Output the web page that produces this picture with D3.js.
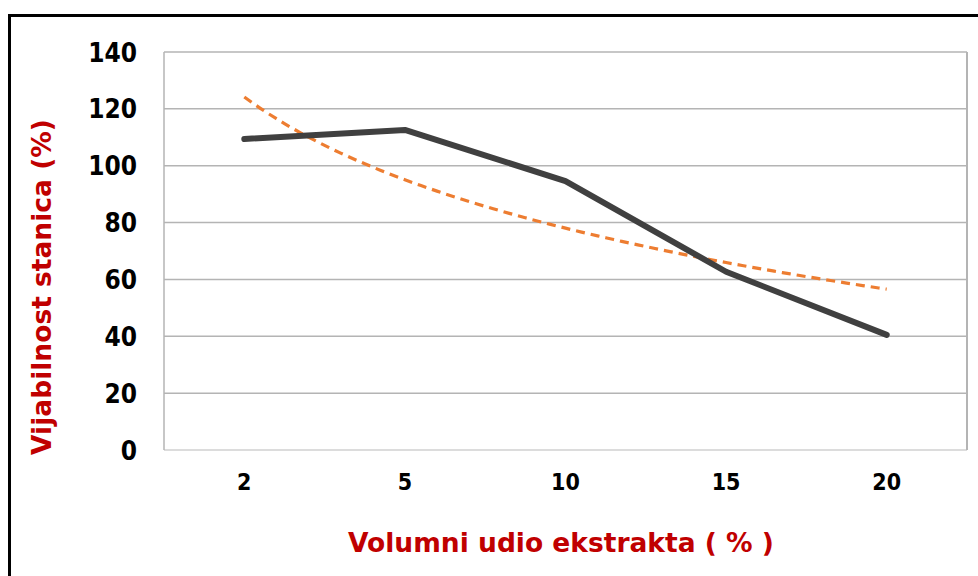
<!DOCTYPE html>
<html>
<head>
<meta charset="utf-8">
<script src="https://d3js.org/d3.v7.min.js"></script>
<style>
  body { margin: 0; background: #fff; }
  text { font-family: "DejaVu Sans Condensed", "DejaVu Sans", sans-serif; font-weight: bold; }
  text.title { font-family: "DejaVu Sans", sans-serif; }
</style>
</head>
<body>
<div id="chart"></div>
<script>
// data
var categories = ["2", "5", "10", "15", "20"];
var viability = [109.4, 112.6, 94.6, 62.7, 40.5];
var yTicks = [0, 20, 40, 60, 80, 100, 120, 140];

var W = 978, H = 576;
var plotL = 164, plotR = 967, plotT = 52, plotB = 450;

var svg = d3.select("#chart").append("svg")
  .attr("width", W).attr("height", H);

// outer chart border
svg.append("rect")
  .attr("x", 9.5).attr("y", 15.5)
  .attr("width", W + 20).attr("height", H + 20)
  .style("fill", "none").style("stroke", "#000").style("stroke-width", 3);

var x = d3.scalePoint().domain(categories).range([plotL, plotR]).padding(0.5);
var y = d3.scaleLinear().domain([0, 140]).range([plotB, plotT]);

// gridlines
svg.append("g").selectAll("line").data(yTicks).enter().append("line")
  .attr("x1", plotL).attr("x2", plotR)
  .attr("y1", function(d) { return y(d); })
  .attr("y2", function(d) { return y(d); })
  .style("stroke", function(d) { return d === 0 ? "#d0d0d0" : "#b4b4b4"; })
  .style("stroke-width", 1.5);

// plot area sides
svg.append("line").attr("x1", plotL).attr("x2", plotL).attr("y1", plotT).attr("y2", plotB)
  .style("stroke", "#b4b4b4").style("stroke-width", 1.5);
svg.append("line").attr("x1", plotR).attr("x2", plotR).attr("y1", plotT).attr("y2", plotB)
  .style("stroke", "#b4b4b4").style("stroke-width", 2);

// y tick labels
svg.append("g").selectAll("text").data(yTicks).enter().append("text")
  .attr("x", 137).attr("y", function(d) { return y(d) + 9.5; })
  .attr("text-anchor", "end")
  .style("font-size", "26px").style("fill", "#000")
  .text(function(d) { return d; });

// x tick labels
svg.append("g").selectAll("text").data(categories).enter().append("text")
  .attr("x", function(d) { return x(d); }).attr("y", 490)
  .attr("text-anchor", "middle")
  .style("font-size", "23px").style("fill", "#000")
  .text(function(d) { return d; });

// logarithmic trendline (least squares on category index, like Excel)
var idx = viability.map(function(d, i) { return i + 1; });
var lx = idx.map(Math.log);
var mx = d3.mean(lx), my = d3.mean(viability);
var sxy = d3.sum(lx, function(v, i) { return (v - mx) * (viability[i] - my); });
var sxx = d3.sum(lx, function(v) { return (v - mx) * (v - mx); });
var b = sxy / sxx, a = my - b * mx;
var step = x.step();
var trend = d3.range(1, 5.001, 0.05).map(function(t) {
  return [x(categories[0]) + (t - 1) * step, y(a + b * Math.log(t))];
});

svg.append("path")
  .attr("d", d3.line()(trend))
  .style("fill", "none").style("stroke", "#ED7D31")
  .style("stroke-width", 3.2).style("stroke-dasharray", "9,6");

// data line
svg.append("path")
  .datum(viability)
  .attr("d", d3.line()
    .x(function(d, i) { return x(categories[i]); })
    .y(function(d) { return y(d); }))
  .style("fill", "none").style("stroke", "#404040")
  .style("stroke-width", 6).style("stroke-linecap", "round").style("stroke-linejoin", "round");

// axis titles
svg.append("text").attr("class", "title")
  .attr("x", 561).attr("y", 552)
  .attr("text-anchor", "middle")
  .style("font-size", "26.5px").style("fill", "#C00000")
  .text("Volumni udio ekstrakta ( % )");

svg.append("text").attr("class", "title")
  .attr("transform", "translate(51,287) rotate(-90)")
  .attr("text-anchor", "middle")
  .style("font-size", "26.5px").style("fill", "#C00000")
  .text("Vijabilnost stanica (%)");
</script>
</body>
</html>
